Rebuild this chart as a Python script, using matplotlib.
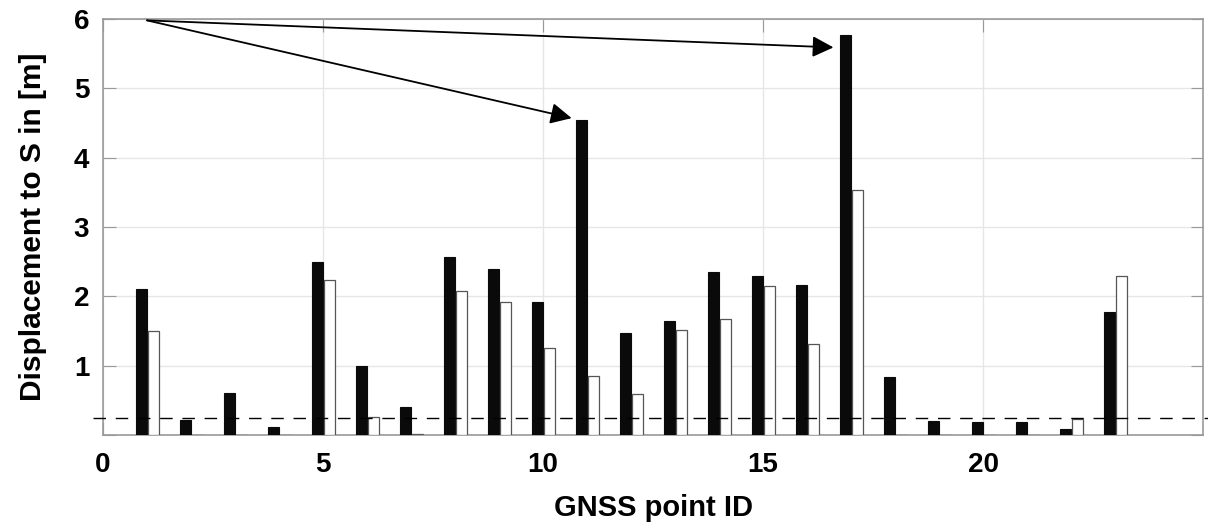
import matplotlib.pyplot as plt
import numpy as np

plt.rcParams['font.family'] = ['Liberation Sans', 'DejaVu Sans']

# GNSS point IDs
ids = np.arange(1, 24)
# displacement, black bars
disp_black = [2.11, 0.22, 0.60, 0.11, 2.50, 0.99, 0.41, 2.57, 2.40, 1.92,
              4.55, 1.47, 1.65, 2.35, 2.29, 2.17, 5.77, 0.83, 0.20, 0.19,
              0.18, 0.09, 1.77]
# displacement, white bars
disp_white = [1.50, 0.0, 0.0, 0.0, 2.23, 0.255, 0.02, 2.08, 1.92, 1.25,
              0.85, 0.59, 1.52, 1.67, 2.15, 1.31, 3.54, 0.0, 0.0, 0.0,
              0.0, 0.235, 2.29]
threshold = 0.24

fig = plt.figure(figsize=(12.08, 5.23), dpi=100)
ax = fig.add_axes([0.0853, 0.1683, 0.9106, 0.7954])

w = 0.25
ax.bar(ids - 0.135, disp_black, width=w, color='#0a0a0a', edgecolor='#0a0a0a', linewidth=0.8, zorder=3)
ax.bar(ids + 0.15, disp_white, width=w, color='white', edgecolor='#555555', linewidth=0.9, zorder=3)

# threshold line (runs past the axes)
ax.plot([-0.23, 25.2], [threshold, threshold], color='black', lw=1.0,
        dashes=(9, 7), clip_on=False, zorder=4)

# arrows to the two largest displacements
ax.annotate('', xy=(10.65, 4.57), xytext=(1.0, 5.98),
            arrowprops=dict(arrowstyle='-|>', color='black', lw=1.3,
                            mutation_scale=32, shrinkA=0, shrinkB=0), zorder=5)
ax.annotate('', xy=(16.6, 5.59), xytext=(1.0, 5.98),
            arrowprops=dict(arrowstyle='-|>', color='black', lw=1.3,
                            mutation_scale=32, shrinkA=0, shrinkB=0), zorder=5)

ax.set_xlim(0, 25)
ax.set_ylim(0, 6)
ax.set_xticks([0, 5, 10, 15, 20])
ax.set_yticks([0, 1, 2, 3, 4, 5, 6])
ax.set_yticklabels(['', '1', '2', '3', '4', '5', '6'])
ax.tick_params(direction='in', length=9, color='#999999', top=True, right=True,
               labelsize=20)
ax.tick_params(axis='y', pad=10)
ax.tick_params(axis='x', pad=12)
for lab in ax.get_xticklabels() + ax.get_yticklabels():
    lab.set_fontweight('bold')
ax.grid(True, color='#e6e6e6', lw=1.0, zorder=0)
ax.set_axisbelow(True)
for s in ax.spines.values():
    s.set_color('#999999')
    s.set_linewidth(1.2)

ax.set_xlabel('GNSS point ID', fontsize=21, fontweight='bold', labelpad=12)
ax.set_ylabel('Displacement to S in [m]', fontsize=21.5, fontweight='bold', labelpad=19)

plt.savefig('out.png', dpi=100)
